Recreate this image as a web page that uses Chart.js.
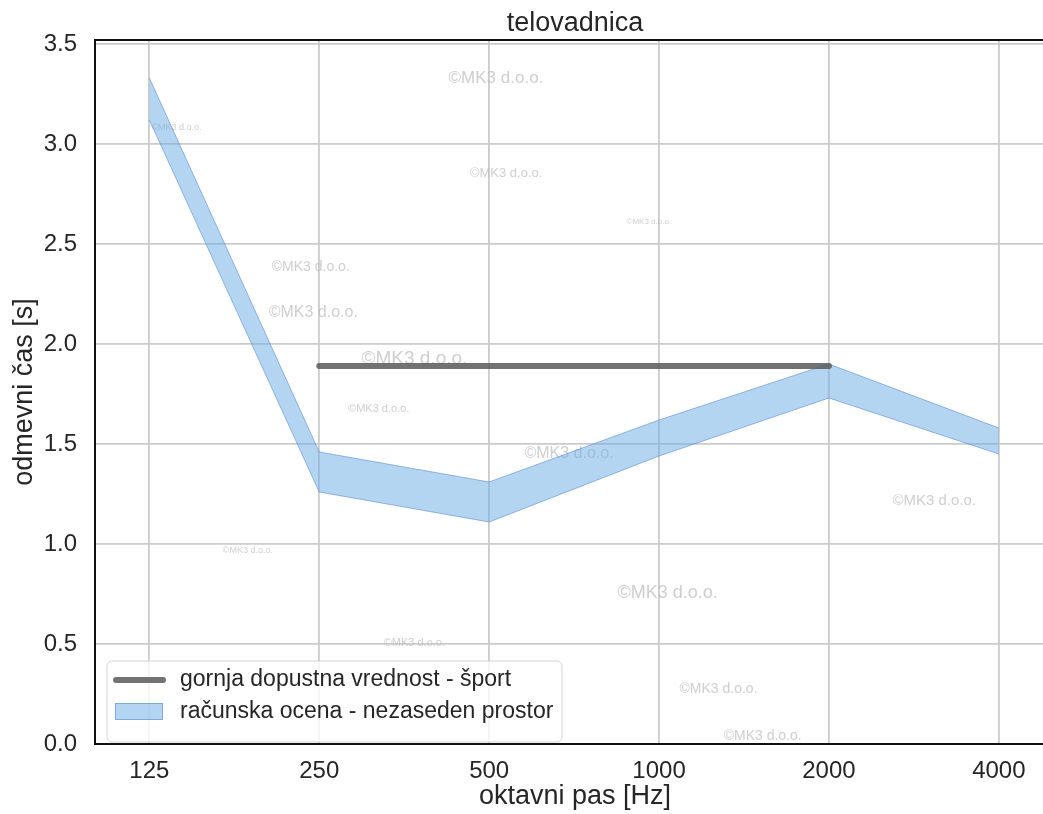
<!DOCTYPE html>
<html lang="sl">
<head>
    <meta charset="UTF-8">
    <title>telovadnica</title>
    <script src="https://cdn.jsdelivr.net/npm/chart.js"></script>
    <style>
        body { margin: 0; background: #fff; }
    </style>
</head>
<body>
    <canvas id="rtChart" width="1043" height="814"></canvas>

    <script>
        // octave bands
        const freqLabels = ["125", "250", "500", "1000", "2000", "4000"];
        // calculated reverberation time, unoccupied room (band low / high)
        const bandLow = [3.12, 1.26, 1.11, 1.44, 1.73, 1.45];
        const bandHigh = [3.33, 1.46, 1.31, 1.62, 1.90, 1.58];
        // upper allowed value for sport, 250 - 2000 Hz
        const limitFrom = 1, limitTo = 4;
        const limitValue = 1.89;

        const yTicks = [0, 0.5, 1, 1.5, 2, 2.5, 3, 3.5];

        // watermark texts: [x index, y value, font size]
        const watermarks = [
            [2.04, 3.33, 17], [0.16, 3.08, 9], [2.10, 2.855, 13], [2.94, 2.61, 8],
            [0.95, 2.385, 14], [0.965, 2.155, 16], [1.56, 1.925, 19], [1.35, 1.675, 11],
            [2.47, 1.45, 16], [4.62, 1.215, 15], [0.58, 0.965, 9], [3.05, 0.755, 18],
            [1.56, 0.505, 11], [3.35, 0.275, 14], [3.61, 0.04, 14]
        ];

        const FONT = "'Liberation Sans', Arial, sans-serif";
        const TEXT = '#262626';
        const bandFill = 'rgba(110,175,230,0.52)';
        const bandEdge = 'rgba(90,140,210,0.6)';
        const limitColor = 'rgba(95,95,95,0.88)';
        const titleX = 575; // figure is centred on a slightly wider axes than the visible crop

        const limitData = [];
        for (let i = limitFrom; i <= limitTo; i++) limitData.push({ x: i, y: limitValue });

        const decor = {
            id: 'decor',
            beforeDatasetsDraw(chart) {
                const { ctx, scales: { x, y } } = chart;
                ctx.save();
                ctx.fillStyle = 'rgba(190,190,190,0.75)';
                ctx.textAlign = 'center';
                ctx.textBaseline = 'middle';
                watermarks.forEach(([wx, wy, size]) => {
                    ctx.font = size + 'px ' + FONT;
                    ctx.fillText('©MK3 d.o.o.', x.getPixelForValue(wx), y.getPixelForValue(wy));
                });
                ctx.restore();
            },
            afterDraw(chart) {
                const { ctx, chartArea: a } = chart;
                ctx.save();
                // top spine
                ctx.strokeStyle = '#111';
                ctx.lineWidth = 2;
                ctx.beginPath();
                ctx.moveTo(a.left - 1, a.top);
                ctx.lineTo(a.right, a.top);
                ctx.stroke();

                // title and axis labels
                ctx.fillStyle = TEXT;
                ctx.textAlign = 'center';
                ctx.textBaseline = 'middle';
                ctx.font = '27px ' + FONT;
                ctx.fillText('telovadnica', titleX, 24);
                ctx.fillText('oktavni pas [Hz]', titleX, 797);
                ctx.save();
                ctx.translate(25, (a.top + a.bottom) / 2);
                ctx.rotate(-Math.PI / 2);
                ctx.fillText('odmevni čas [s]', 0, 0);
                ctx.restore();

                // legend
                const lx = 107, ly = 661, lw = 455, lh = 81;
                ctx.fillStyle = 'rgba(255,255,255,0.8)';
                ctx.strokeStyle = '#d5d5d5';
                ctx.lineWidth = 1;
                ctx.beginPath();
                ctx.roundRect(lx, ly, lw, lh, 5);
                ctx.fill();
                ctx.stroke();

                ctx.strokeStyle = limitColor;
                ctx.lineWidth = 6;
                ctx.lineCap = 'round';
                ctx.beginPath();
                ctx.moveTo(116, 680);
                ctx.lineTo(163, 680);
                ctx.stroke();

                ctx.fillStyle = bandFill;
                ctx.fillRect(115, 703, 48, 17);
                ctx.strokeStyle = bandEdge;
                ctx.lineWidth = 1;
                ctx.strokeRect(115.5, 703.5, 47, 16);

                ctx.fillStyle = TEXT;
                ctx.textAlign = 'left';
                ctx.font = '23px ' + FONT;
                ctx.fillText('gornja dopustna vrednost - šport', 180, 680);
                ctx.fillText('računska ocena - nezaseden prostor', 180, 712);
                ctx.restore();
            }
        };

        const ctx = document.getElementById('rtChart').getContext('2d');
        new Chart(ctx, {
            type: 'line',
            data: {
                datasets: [
                    {
                        label: 'gornja dopustna vrednost - šport',
                        data: limitData,
                        borderColor: limitColor,
                        borderWidth: 6,
                        borderCapStyle: 'round',
                        pointRadius: 0,
                        fill: false
                    },
                    {
                        label: 'low',
                        data: bandLow.map((v, i) => ({ x: i, y: v })),
                        borderColor: bandEdge,
                        borderWidth: 1,
                        pointRadius: 0,
                        fill: false
                    },
                    {
                        label: 'računska ocena - nezaseden prostor',
                        data: bandHigh.map((v, i) => ({ x: i, y: v })),
                        borderColor: bandEdge,
                        borderWidth: 1,
                        backgroundColor: bandFill,
                        pointRadius: 0,
                        fill: 1
                    }
                ]
            },
            options: {
                responsive: false,
                animation: false,
                layout: { padding: { top: 40, right: 0, left: 0, bottom: 0 } },
                plugins: {
                    legend: { display: false },
                    tooltip: { enabled: false }
                },
                scales: {
                    x: {
                        type: 'linear',
                        min: -0.32,
                        max: 5.26,
                        afterFit(scale) { scale.height = 70; },
                        afterBuildTicks(scale) {
                            scale.ticks = freqLabels.map((f, i) => ({ value: i }));
                        },
                        ticks: {
                            callback: v => freqLabels[v],
                            font: { family: FONT, size: 24 },
                            color: TEXT,
                            padding: 13,
                            maxRotation: 0
                        },
                        grid: { color: '#cbcbcb', lineWidth: 1.8, drawTicks: false },
                        border: { display: true, color: '#111', width: 2 }
                    },
                    y: {
                        min: 0,
                        max: 3.52,
                        afterFit(scale) { scale.width = 95; },
                        afterBuildTicks(scale) {
                            scale.ticks = yTicks.map(v => ({ value: v }));
                        },
                        ticks: {
                            callback: v => v.toFixed(1),
                            font: { family: FONT, size: 24 },
                            color: TEXT,
                            padding: 18
                        },
                        grid: { color: '#cbcbcb', lineWidth: 1.8, drawTicks: false },
                        border: { display: true, color: '#111', width: 2 }
                    }
                }
            },
            plugins: [decor]
        });
    </script>
</body>
</html>
